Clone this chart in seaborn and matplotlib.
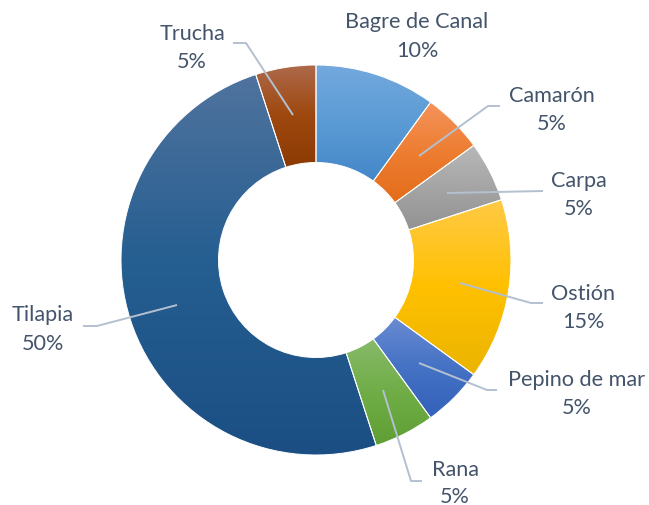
import numpy as np
import seaborn as sns
import matplotlib.pyplot as plt
from matplotlib.colors import LinearSegmentedColormap

# data
especies = ["Bagre de Canal", "Camarón", "Carpa", "Ostión",
            "Pepino de mar", "Rana", "Tilapia", "Trucha"]
porcentajes = [10, 5, 5, 15, 5, 5, 50, 5]

# base colours and gradient ends (top light, bottom dark)
colores = ["#5B9BD5", "#ED7D31", "#A5A5A5", "#FFC000",
           "#4472C4", "#70AD47", "#255E91", "#9E480E"]
claros = ["#74A9DE", "#F4935B", "#B8B8B8", "#FFCA45",
          "#6A8BD2", "#88BA6B", "#50739E", "#AE6A4C"]
oscuros = ["#4487C8", "#E36C1A", "#929292", "#EBB400",
           "#3461BA", "#5F9F34", "#1B4F84", "#8C3A04"]

W, H = 649, 506
TXT = "#44546A"
LINEA = "#B4C0D0"

# label layout in pixel coords: name x, name baseline, pct baseline, leader points
etiquetas = {
    "Bagre de Canal": (417, 28, 57, None),
    "Camarón": (552, 102, 130, [(419, 157), (488, 107), (500, 107)]),
    "Carpa": (579, 187, 215, [(447, 194), (543, 192)]),
    "Ostión": (583, 300, 328, [(460, 284), (531, 304), (543, 304)]),
    "Pepino de mar": (577, 386, 414, [(419, 364), (487, 391), (497, 391)]),
    "Rana": (455, 476, 503, [(383, 391), (411, 482), (422, 482)]),
    "Tilapia": (43, 321, 350, [(177, 306), (97, 327), (83, 327)]),
    "Trucha": (192, 40, 68, [(293, 116), (246, 44), (233, 44)]),
}

sns.set_theme(style="white")
plt.rcParams["font.family"] = ["Lato", "DejaVu Sans"]

fig = plt.figure(figsize=(W / 100, H / 100), dpi=100)
ax = fig.add_axes([0, 0, 1, 1])

cx, cy, r = 316, H - 261, 195
wedges, _ = ax.pie(porcentajes, colors=colores, startangle=90, counterclock=False,
                   radius=r, center=(cx, cy), frame=True,
                   wedgeprops=dict(width=r * 0.5, edgecolor="white", linewidth=0.7))

grad = np.linspace(0, 1, 256).reshape(-1, 1)
for w, c0, c1, c2 in zip(wedges, claros, colores, oscuros):
    cmap = LinearSegmentedColormap.from_list("g", [c0, c1, c2])
    bb = w.get_path().get_extents()
    im = ax.imshow(grad, cmap=cmap, aspect="auto", origin="upper",
                   extent=(bb.x0, bb.x1, bb.y0, bb.y1), zorder=2)
    im.set_clip_path(w)
    w.set_facecolor("none")
    w.set_zorder(3)

for nombre, valor in zip(especies, porcentajes):
    x, yn, yp, pts = etiquetas[nombre]
    ax.text(x, H - yn, nombre, ha="center", va="baseline", fontsize=15.6, color=TXT)
    ax.text(x, H - yp, f"{valor}%", ha="center", va="baseline", fontsize=15.6, color=TXT)
    if pts:
        ax.plot([p[0] for p in pts], [H - p[1] for p in pts],
                color=LINEA, lw=1.4, zorder=4, solid_capstyle="butt")

ax.set_xlim(0, W)
ax.set_ylim(0, H)
ax.set_aspect("equal")
ax.axis("off")

fig.savefig("out.png", dpi=100)
